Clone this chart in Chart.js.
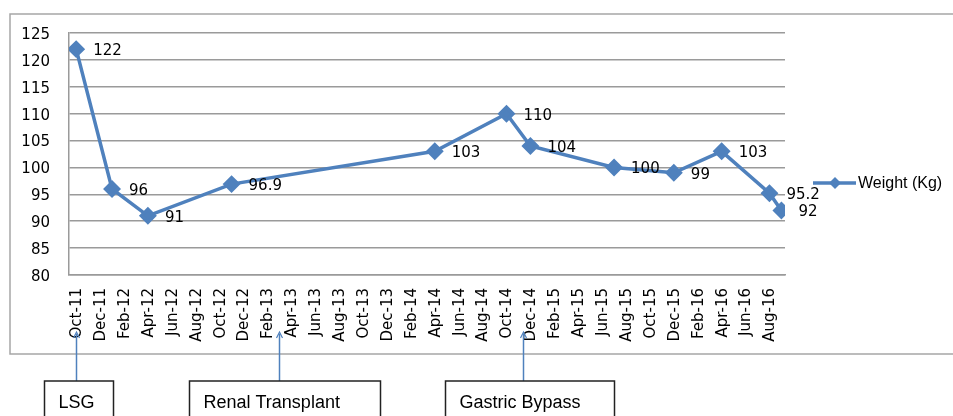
<!DOCTYPE html>
<html>
<head>
<meta charset="utf-8">
<script src="https://cdn.jsdelivr.net/npm/chart.js@4.4.1/dist/chart.umd.min.js"></script>
<style>
  html, body { margin: 0; padding: 0; background: #fff; }
  #wrap { width: 953px; height: 416px; }
</style>
</head>
<body>
<div id="wrap"><canvas id="weightChart" width="953" height="416"></canvas></div>
<script>
/* =======================
   DATA
======================= */
const visitDates = ["2011-10-01", "2012-01-01", "2012-04-01", "2012-11-01", "2014-04-01", "2014-10-01",
                    "2014-12-01", "2015-07-01", "2015-12-01", "2016-04-01", "2016-08-01", "2016-09-01"];
const weights = [122, 96, 91, 96.9, 103, 110, 104, 100, 99, 103, 95.2, 92];

const monthLabels = ["Oct-11", "Dec-11", "Feb-12", "Apr-12", "Jun-12", "Aug-12", "Oct-12", "Dec-12",
                     "Feb-13", "Apr-13", "Jun-13", "Aug-13", "Oct-13", "Dec-13", "Feb-14", "Apr-14",
                     "Jun-14", "Aug-14", "Oct-14", "Dec-14", "Feb-15", "Apr-15", "Jun-15", "Aug-15",
                     "Oct-15", "Dec-15", "Feb-16", "Apr-16", "Jun-16", "Aug-16"];

const eventNames = ["LSG", "Renal Transplant", "Gastric Bypass"];
const eventDates = ["2011-10-01", "2013-03-01", "2014-11-13"];

const seriesName = "Weight (Kg)";

/* months since Oct 2011 */
function monthIndex(d) {
    const p = d.split("-").map(Number);
    return (p[0] - 2011) * 12 + (p[1] - 10) + (p[2] - 1) / 30;
}

const BLUE = "#4F81BD";
const GRID = "#9a9a9a";
const TICK_FONT = { family: "'DejaVu Sans', Verdana, sans-serif", size: 15 };

/* =======================
   EXTRA DRAWING
======================= */
const extras = {
    id: "extras",
    afterDatasetsDraw(chart) {
        const ctx = chart.ctx;
        const meta = chart.getDatasetMeta(0);

        /* value labels right of each point */
        ctx.save();
        ctx.fillStyle = "#000";
        ctx.font = "15px 'DejaVu Sans', Verdana, sans-serif";
        ctx.textAlign = "left";
        ctx.textBaseline = "middle";
        meta.data.forEach((pt, i) => {
            ctx.fillText(String(weights[i]), pt.x + 17, pt.y + 2);
        });
        ctx.restore();
    },
    afterDraw(chart) {
        const ctx = chart.ctx;
        const xs = chart.scales.x;

        ctx.save();

        /* outer frame */
        ctx.strokeStyle = "#a6a6a6";
        ctx.lineWidth = 1.5;
        ctx.strokeRect(10, 14, 960, 340);

        /* legend */
        const ly = 183;
        ctx.strokeStyle = BLUE;
        ctx.lineWidth = 3.5;
        ctx.beginPath();
        ctx.moveTo(813, ly);
        ctx.lineTo(856, ly);
        ctx.stroke();
        ctx.fillStyle = BLUE;
        ctx.beginPath();
        ctx.moveTo(835, ly - 6);
        ctx.lineTo(841, ly);
        ctx.lineTo(835, ly + 6);
        ctx.lineTo(829, ly);
        ctx.closePath();
        ctx.fill();
        ctx.fillStyle = "#000";
        ctx.font = "16px 'Liberation Sans', Arial, sans-serif";
        ctx.textAlign = "left";
        ctx.textBaseline = "middle";
        ctx.fillText(seriesName, 858, ly + 1);

        /* event call-outs */
        const boxLeft = [-32, -90, -78];
        const boxWidth = [69, 191, 169];
        const boxTop = 381;
        eventNames.forEach((name, i) => {
            const x = Math.round(xs.getPixelForValue(monthIndex(eventDates[i]))) + 0.5;

            ctx.strokeStyle = BLUE;
            ctx.lineWidth = 1.5;
            ctx.beginPath();
            ctx.moveTo(x, 334);
            ctx.lineTo(x, boxTop);
            ctx.stroke();
            ctx.lineWidth = 1.2;
            ctx.beginPath();
            ctx.moveTo(x - 3, 338);
            ctx.lineTo(x, 332);
            ctx.lineTo(x + 3, 338);
            ctx.stroke();

            ctx.strokeStyle = "#222";
            ctx.lineWidth = 1.5;
            ctx.strokeRect(x + boxLeft[i], boxTop, boxWidth[i], 50);

            ctx.fillStyle = "#000";
            ctx.font = "18px 'Liberation Sans', Arial, sans-serif";
            ctx.textAlign = "left";
            ctx.textBaseline = "alphabetic";
            ctx.fillText(name, x + boxLeft[i] + 14, 408);
        });

        ctx.restore();
    }
};

/* =======================
   CHART
======================= */
new Chart(document.getElementById("weightChart"), {
    type: "line",
    data: {
        datasets: [{
            label: seriesName,
            data: visitDates.map((d, i) => ({ x: monthIndex(d), y: weights[i] })),
            borderColor: BLUE,
            backgroundColor: BLUE,
            borderWidth: 3.5,
            pointStyle: "rectRot",
            pointRadius: 6.5,
            pointHoverRadius: 6.5,
            tension: 0
        }]
    },
    options: {
        responsive: false,
        animation: false,
        devicePixelRatio: 1,
        layout: { padding: { left: 0, top: 33, right: 168, bottom: 0 } },
        plugins: {
            legend: { display: false },
            tooltip: { enabled: false }
        },
        scales: {
            x: {
                type: "linear",
                min: -0.6,
                max: 59.3,
                afterBuildTicks: (scale) => {
                    scale.ticks = monthLabels.map((l, i) => ({ value: i * 2 }));
                },
                afterFit: (scale) => { scale.height = 141; },
                ticks: {
                    autoSkip: false,
                    maxRotation: 90,
                    minRotation: 90,
                    padding: 13,
                    labelOffset: 1,
                    color: "#000",
                    font: TICK_FONT,
                    callback: (v) => monthLabels[Math.round(v / 2)]
                },
                grid: { display: false, drawTicks: false },
                border: { display: true, color: GRID, width: 1.5 }
            },
            y: {
                min: 80,
                max: 125,
                afterFit: (scale) => { scale.width = 69; },
                ticks: {
                    stepSize: 5,
                    padding: 19,
                    labelOffset: 2,
                    color: "#000",
                    font: TICK_FONT
                },
                grid: { color: GRID, lineWidth: 1.5, drawTicks: false },
                border: { display: true, color: GRID, width: 1.5 }
            }
        }
    },
    plugins: [extras]
});
</script>
</body>
</html>
